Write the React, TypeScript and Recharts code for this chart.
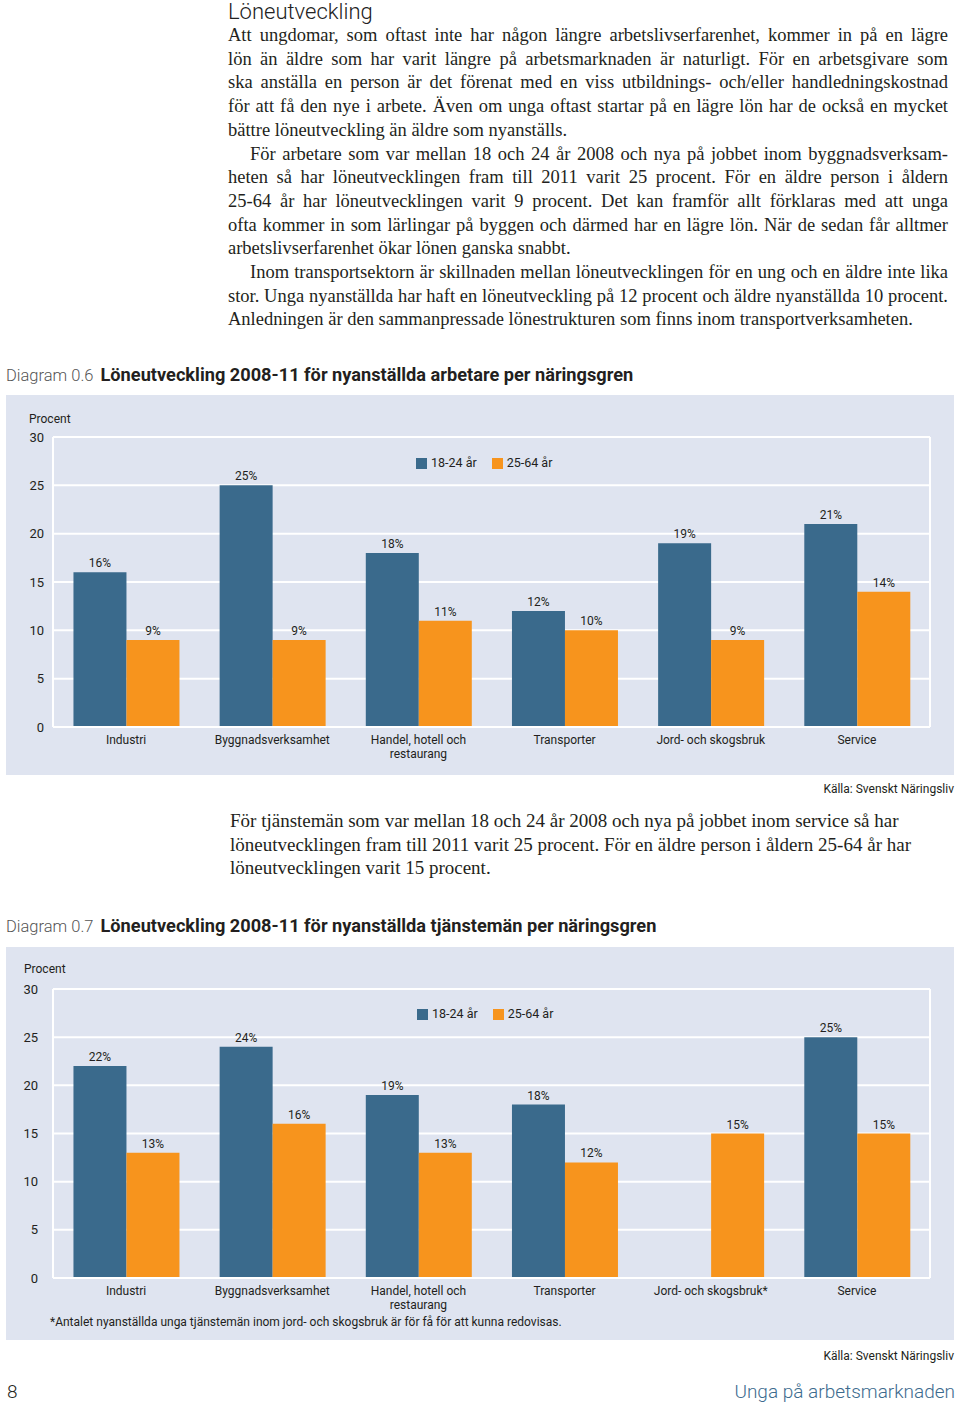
import React from 'react'
import { BarChart, Bar, XAxis, YAxis, CartesianGrid, Legend, LabelList } from 'recharts'

const seriesNames = ['18-24 år', '25-64 år']
const yTicks = [0, 5, 10, 15, 20, 25, 30]

const categories1 = ['Industri', 'Byggnadsverksamhet', 'Handel, hotell och\nrestaurang', 'Transporter', 'Jord- och skogsbruk', 'Service']
const young1 = [16, 25, 18, 12, 19, 21]
const older1 = [9, 9, 11, 10, 9, 14]

const categories2 = ['Industri', 'Byggnadsverksamhet', 'Handel, hotell och\nrestaurang', 'Transporter', 'Jord- och skogsbruk*', 'Service']
const young2 = [22, 24, 19, 18, null, 25]
const older2 = [13, 16, 13, 12, 15, 15]

const BLUE = '#3a6a8c'
const ORANGE = '#f7941d'
const PANEL = '#dfe4f0'
const INK = '#231f20'
const SANS = 'Roboto, "Open Sans", sans-serif'
const SERIF = '"Liberation Serif", serif'

const intro = [
  { text: 'Att ungdomar, som oftast inte har någon längre arbetslivserfarenhet, kommer in på en lägre', indent: false, last: false },
  { text: 'lön än äldre som har varit längre på arbetsmarknaden är naturligt. För en arbetsgivare som', indent: false, last: false },
  { text: 'ska anställa en person är det förenat med en viss utbildnings- och/eller handledningskostnad', indent: false, last: false },
  { text: 'för att få den nye i arbete. Även om unga oftast startar på en lägre lön har de också en mycket', indent: false, last: false },
  { text: 'bättre löneutveckling än äldre som nyanställs.', indent: false, last: true },
  { text: 'För arbetare som var mellan 18 och 24 år 2008 och nya på jobbet inom byggnadsverksam-', indent: true, last: false },
  { text: 'heten så har löneutvecklingen fram till 2011 varit 25 procent. För en äldre person i åldern', indent: false, last: false },
  { text: '25-64 år har löneutvecklingen varit 9 procent. Det kan framför allt förklaras med att unga', indent: false, last: false },
  { text: 'ofta kommer in som lärlingar på byggen och därmed har en lägre lön. När de sedan får alltmer', indent: false, last: false },
  { text: 'arbetslivserfarenhet ökar lönen ganska snabbt.', indent: false, last: true },
  { text: 'Inom transportsektorn är skillnaden mellan löneutvecklingen för en ung och en äldre inte lika', indent: true, last: false },
  { text: 'stor. Unga nyanställda har haft en löneutveckling på 12 procent och äldre nyanställda 10 procent.', indent: false, last: false },
  { text: 'Anledningen är den sammanpressade lönestrukturen som finns inom transportverksamheten.', indent: false, last: true },
]

const middle = [
  'För tjänstemän som var mellan 18 och 24 år 2008 och nya på jobbet inom service så har',
  'löneutvecklingen fram till 2011 varit 25 procent. För en äldre person i åldern 25-64 år har',
  'löneutvecklingen varit 15 procent.',
]

const CategoryTick = (props: any) => {
  const { x, y, payload } = props
  const lines = String(payload.value).split('\n')
  return (
    <g transform={`translate(${x},${y})`}>
      {lines.map((l, i) => (
        <text key={i} x={0} y={0} dy={17 + i * 14} textAnchor="middle" fill={INK} fontSize={12} fontFamily={SANS}>
          {l}
        </text>
      ))}
    </g>
  )
}

const pct = (v: any) => (v === null || v === undefined ? '' : `${v}%`)

type ChartProps = {
  categories: string[]
  young: (number | null)[]
  older: number[]
  height: number
  bottom: number
  tickMargin: number
  legendLeft: number
  legendTop: number
}

const WageChart = ({ categories, young, older, height, bottom, tickMargin, legendLeft, legendTop }: ChartProps) => {
  const data = categories.map((c, i) => ({ name: c, young: young[i], older: older[i] }))
  return (
    <BarChart
      width={948}
      height={height}
      data={data}
      margin={{ top: 42, right: 24, left: 0, bottom }}
      barCategoryGap="14%"
      barGap={0}
      style={{ fontFamily: SANS }}
    >
      <CartesianGrid
        stroke="#ffffff"
        strokeWidth={2}
        verticalCoordinatesGenerator={({ offset }: any) => [offset.left, offset.left + offset.width]}
      />
      <XAxis
        dataKey="name"
        tick={<CategoryTick />}
        tickLine={false}
        tickSize={0}
        tickMargin={0}
        axisLine={{ stroke: '#ffffff', strokeWidth: 2 }}
        height={40}
        interval={0}
      />
      <YAxis
        domain={[0, 30]}
        ticks={yTicks}
        tickLine={false}
        tickSize={0}
        tickMargin={tickMargin}
        axisLine={{ stroke: '#ffffff', strokeWidth: 2 }}
        tick={{ fill: INK, fontSize: 13, fontFamily: SANS }}
        width={47}
      />
      <Legend
        verticalAlign="middle"
        layout="horizontal"
        iconType="square"
        iconSize={11}
        wrapperStyle={{ top: legendTop, left: legendLeft, width: 'auto', fontSize: 12.5, fontFamily: SANS }}
        formatter={(v: any) => <span style={{ color: INK, marginRight: 5 }}>{v}</span>}
      />
      <Bar dataKey="young" name={seriesNames[0]} fill={BLUE} isAnimationActive={false}>
        <LabelList dataKey="young" position="top" offset={5} formatter={pct} fill={INK} fontSize={12} fontFamily={SANS} />
      </Bar>
      <Bar dataKey="older" name={seriesNames[1]} fill={ORANGE} isAnimationActive={false}>
        <LabelList dataKey="older" position="top" offset={5} formatter={pct} fill={INK} fontSize={12} fontFamily={SANS} />
      </Bar>
    </BarChart>
  )
}

const abs = (left: number, top: number, extra: React.CSSProperties = {}): React.CSSProperties => ({
  position: 'absolute',
  left,
  top,
  ...extra,
})

const ChartTitle = ({ top, num, title }: { top: number; num: string; title: string }) => (
  <div style={abs(6, top, { fontFamily: SANS, color: INK, whiteSpace: 'nowrap', lineHeight: '24px' })}>
    <span style={{ fontWeight: 300, color: '#555', fontSize: 16.5 }}>{num}</span>
    <span style={{ fontWeight: 700, marginLeft: 7, fontSize: 18.2 }}>{title}</span>
  </div>
)

export default function App() {
  return (
    <div style={abs(0, 0, { width: 960, height: 1409, background: '#fff', color: INK })}>
      <div style={abs(228, -1, { fontFamily: SANS, fontWeight: 300, fontSize: 22, lineHeight: '26px', color: '#222' })}>
        Löneutveckling
      </div>
      <div style={abs(228, 24, { width: 720, fontFamily: SERIF, fontSize: 18.5, lineHeight: '23.7px' })}>
        {intro.map((l, i) => (
          <div
            key={i}
            style={{
              textAlign: 'justify',
              textAlignLast: l.last ? 'left' : 'justify',
              paddingLeft: l.indent ? 22 : 0,
              whiteSpace: 'nowrap',
            }}
          >
            {l.text}
          </div>
        ))}
      </div>

      <ChartTitle top={363} num="Diagram 0.6" title="Löneutveckling 2008-11 för nyanställda arbetare per näringsgren" />
      <div style={abs(6, 395, { width: 948, height: 380, background: PANEL })}>
        <WageChart
          categories={categories1}
          young={young1}
          older={older1}
          height={380}
          bottom={8}
          tickMargin={9}
          legendLeft={410}
          legendTop={60}
        />
        <div style={abs(23, 17, { fontFamily: SANS, fontSize: 12 })}>Procent</div>
      </div>
      <div style={abs(700, 782, { width: 254, textAlign: 'right', fontFamily: SANS, fontSize: 12 })}>
        Källa: Svenskt Näringsliv
      </div>

      <div style={abs(230, 809, { fontFamily: SERIF, fontSize: 19, lineHeight: '23.7px', whiteSpace: 'nowrap' })}>
        {middle.map((t, i) => (
          <div key={i}>{t}</div>
        ))}
      </div>

      <ChartTitle top={914} num="Diagram 0.7" title="Löneutveckling 2008-11 för nyanställda tjänstemän per näringsgren" />
      <div style={abs(6, 947, { width: 948, height: 393, background: PANEL })}>
        <WageChart
          categories={categories2}
          young={young2}
          older={older2}
          height={393}
          bottom={22}
          tickMargin={15}
          legendLeft={411}
          legendTop={59}
        />
        <div style={abs(18, 15, { fontFamily: SANS, fontSize: 12 })}>Procent</div>
        <div style={abs(44, 368, { fontFamily: SANS, fontSize: 12, whiteSpace: 'nowrap' })}>
          *Antalet nyanställda unga tjänstemän inom jord- och skogsbruk är för få för att kunna redovisas.
        </div>
      </div>
      <div style={abs(700, 1349, { width: 254, textAlign: 'right', fontFamily: SANS, fontSize: 12 })}>
        Källa: Svenskt Näringsliv
      </div>

      <div style={abs(7, 1380, { fontFamily: SANS, fontWeight: 300, fontSize: 19 })}>8</div>
      <div style={abs(600, 1380, { width: 355, textAlign: 'right', fontFamily: SANS, fontWeight: 300, fontSize: 19, color: '#3d6b8e' })}>
        Unga på arbetsmarknaden
      </div>
    </div>
  )
}
